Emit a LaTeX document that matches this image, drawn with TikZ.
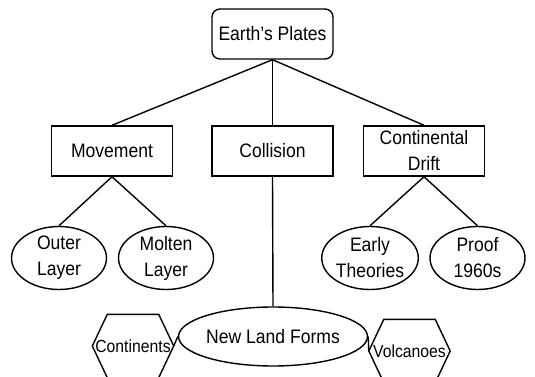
\documentclass[tikz,border=0pt]{standalone}
\usepackage{fontspec}
\setmainfont{Liberation Sans}[FakeStretch=0.9]
\usetikzlibrary{shapes.geometric}
\begin{document}
\begin{tikzpicture}[x=1pt,y=-1pt,
  every node/.style={font=\fontsize{19.5}{26}\selectfont, inner sep=0pt, align=center},
  box/.style={draw, line width=1.4pt, minimum width=121pt, minimum height=50pt},
  rbox/.style={box, rounded corners=8pt},
  oval/.style={draw, ellipse, line width=1.4pt, minimum width=95pt, minimum height=63pt},
  hexnode/.style={minimum width=81pt, minimum height=63pt, font=\fontsize{17.5}{20}\selectfont},
  link/.style={line width=1.4pt},
  hexline/.style={line width=1.4pt, line join=miter}]
\useasboundingbox (0,0) rectangle (535,377);

\node[rbox] (earth) at (272.5,34) {Earth’s Plates};
\node[box] (move) at (112,151) {Movement};
\node[box] (coll) at (272.5,151) {Collision};
\node[box] (drift) at (424,151) {Continental\\Drift};

\node[oval] (outer) at (59,258) {Outer\\Layer};
\node[oval] (molten) at (166,258) {Molten\\Layer};
\node[oval] (early) at (370,258) {Early\\Theories};
\node[oval] (proof) at (477.5,258) {Proof\\1960s};

\node[oval, minimum width=148pt, minimum height=59pt] (nlf) at (273,336.5) {New Land Forms};
\node[hexnode] (cont) at (133,346) {Continents};
\node[hexnode] (volc) at (409.5,351) {Volcanoes};

\draw[hexline] (cont.west) -- ([xshift=15pt]cont.north west) -- ([xshift=-15pt]cont.north east)
  -- (cont.east) -- ([xshift=-15pt]cont.south east) -- ([xshift=15pt]cont.south west) -- cycle;
\draw[hexline] (volc.west) -- ([xshift=15pt]volc.north west) -- ([xshift=-15pt]volc.north east)
  -- (volc.east) -- ([xshift=-15pt]volc.south east) -- ([xshift=15pt]volc.south west) -- cycle;

\draw[link] (earth.south) -- (move.north);
\draw[link] (earth.south) -- (coll.north);
\draw[link] (earth.south) -- (drift.north);
\draw[link] (move.south) -- (outer.north);
\draw[link] (move.south) -- (molten.north);
\draw[link] (drift.south) -- (early.north);
\draw[link] (drift.south) -- (proof.north);
\draw[link] (coll.south) -- (nlf.north);
\draw[link] (cont.east) -- (nlf.west);
\draw[link] (nlf.east) -- (volc.west);
\end{tikzpicture}
\end{document}
